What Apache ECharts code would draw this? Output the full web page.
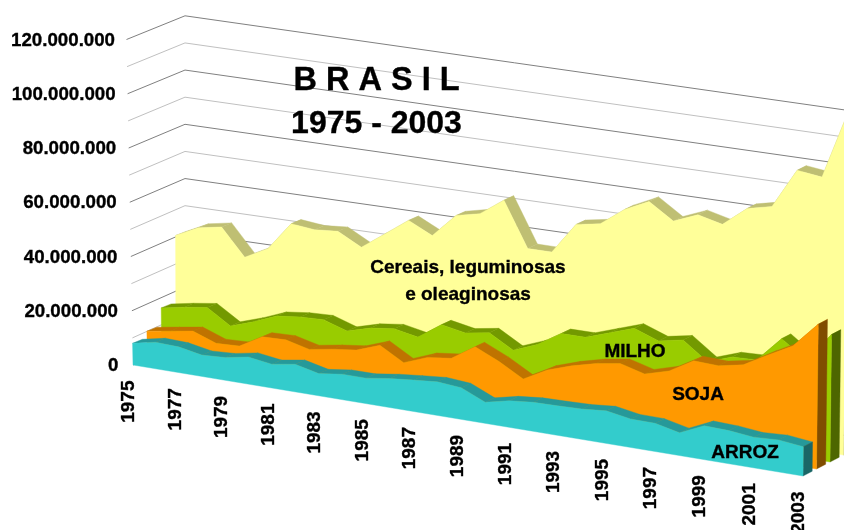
<!DOCTYPE html>
<html>
<head>
<meta charset="utf-8">
<style>
  html, body { margin: 0; padding: 0; background: #fff; }
  #main { width: 844px; height: 530px; }
</style>
<script src="https://cdn.jsdelivr.net/npm/echarts@6/dist/echarts.min.js"></script>
</head>
<body>
<div id="main"></div>
<script>
var years = [1975,1976,1977,1978,1979,1980,1981,1982,1983,1984,1985,1986,1987,1988,1989,1990,1991,1992,1993,1994,1995,1996,1997,1998,1999,2000,2001,2002,2003];
var yearLabels = [1975,1977,1979,1981,1983,1985,1987,1989,1991,1993,1995,1997,1999,2001,2003];
var gridValues = [0,10,20,30,40,50,60,70,80,90,100,110,120];
var valueTicks = [0,20,40,60,80,100,120];
var valueLabels = ["0","20.000.000","40.000.000","60.000.000","80.000.000","100.000.000","120.000.000"];

// milhoes de toneladas
var arroz = [8.0,9.8,9.5,7.9,8.4,10.0,8.8,10.2,8.2,9.4,9.4,10.7,11.6,12.4,11.7,7.8,9.8,10.7,10.9,11.2,12.0,10.5,10.4,8.4,12.5,12.2,11.3,11.8,10.8];
var soja = [10.3,11.7,13.1,10.0,10.4,15.2,15.5,13.4,14.9,16.0,19.2,14.2,17.6,18.7,24.4,20.4,15.4,20.2,23.2,25.5,27.0,24.6,27.2,32.4,32.1,33.9,39.0,43.9,53.4];
var milho = [16.7,18.3,19.6,14.2,17.1,20.6,21.7,22.1,19.3,21.8,23.0,21.3,27.3,25.7,27.2,22.2,25.7,31.2,31.3,34.4,37.5,34.3,36.1,29.6,32.8,33.2,42.5,36.0,47.0];
var cereais = [41.2,45.4,47.1,37.3,41.8,52.4,51.6,52.4,47.9,54.2,60.6,56.4,65.2,67.3,73.7,57.3,57.4,69.0,70.7,77.4,81.8,76.0,79.8,77.7,85.0,87.2,102.0,101.0,126.0];

// ordem: do fundo para a frente
var crops = [
  { name: "Cereais", values: cereais, depth: 3, front: "#FFFF99", top: "#BFBF73", side: "#808050" },
  { name: "Milho", values: milho, depth: 2, front: "#99CC00", top: "#739900", side: "#4D6600" },
  { name: "Soja", values: soja, depth: 1, front: "#FF9900", top: "#BF7300", side: "#804D00" },
  { name: "Arroz", values: arroz, depth: 0, front: "#33CCCC", top: "#269999", side: "#1A6666" }
];

var FONT = '"Liberation Sans", Arial, sans-serif';
var GRID_LEFT = 133;
var THICK = 0.68;

// projecao obliqua sobre os eixos normais do echarts
function project(api, year, v, d) {
  var p = api.coord([year, v]);
  var i = year - 1975;
  var x = p[0] + 0.034 * i * (i - 28);
  var y = p[1] + (x - GRID_LEFT) * 0.1657 - d * (5.9 + 1.1 * i / 28);
  var lean = (v / 120) * (-6.5 * (1 - i / 28) * (1 - d / 3.57) + 4 * i / 28);
  return [x + (14.3 - 0.8 * i / 28) * d + lean, y];
}

function polygon(points, color) {
  return {
    type: "polygon",
    shape: { points: points },
    style: { fill: color, stroke: color, lineWidth: 0.4 }
  };
}

function renderCrop(crop) {
  return function(params, api) {
    if (params.dataIndex !== years.length - 1) return null;
    var children = [];
    var d = crop.depth;
    var last = years.length - 1;
    for (var k = 0; k < last; k++) {
      children.push(polygon([
        project(api, years[k], crop.values[k], d),
        project(api, years[k + 1], crop.values[k + 1], d),
        project(api, years[k + 1], crop.values[k + 1], d + THICK),
        project(api, years[k], crop.values[k], d + THICK)
      ], crop.top));
    }
    children.push(polygon([
      project(api, years[last], 0, d),
      project(api, years[last], crop.values[last], d),
      project(api, years[last], crop.values[last], d + THICK),
      project(api, years[last], 0, d + THICK)
    ], crop.side));
    var pts = [project(api, years[0], 0, d)];
    for (var j = 0; j <= last; j++) {
      pts.push(project(api, years[j], crop.values[j], d));
    }
    pts.push(project(api, years[last], 0, d));
    children.push(polygon(pts, crop.front));
    return { type: "group", children: children };
  };
}

function renderWall(params, api) {
  var v = gridValues[params.dataIndex];
  var p = api.coord([1975, v]);
  var backY = p[1] - 23.7;
  var major = v % 20 === 0;
  return {
    type: "polyline",
    shape: { points: [[p[0] - v / 120 * 6.5, p[1]], [185, backY], [844, backY + 659 * 0.1427]] },
    style: { fill: null, stroke: major ? "#808080" : "#c0c0c0", lineWidth: 1 }
  };
}

function textStyle(text, size, align) {
  return { text: text, fontFamily: FONT, fontWeight: "bold", fontSize: size, fill: "#000", stroke: "#000", lineWidth: 0.35, align: align, verticalAlign: "middle" };
}

function renderYear(params, api) {
  var year = yearLabels[params.dataIndex];
  var p = project(api, year, 0, 0);
  return {
    type: "text",
    x: p[0] - 3.8,
    y: p[1] + 15.5,
    rotation: Math.PI / 2,
    style: textStyle(String(year), 19, "right")
  };
}

// rotulos do eixo de valores, inclinados como a parede
function renderValue(params, api) {
  var v = valueTicks[params.dataIndex];
  var p = api.coord([1975, v]);
  return {
    type: "text",
    x: p[0] - 14.5 - v / 120 * 3.5,
    y: p[1] + 1,
    style: textStyle(valueLabels[params.dataIndex], 18.7, "right")
  };
}

function label(text, x, y, size, lineHeight) {
  var style = textStyle(text, size, "center");
  style.lineHeight = lineHeight;
  return { type: "text", z: 100, x: x, y: y, style: style };
}

function customSeries(z, data, renderItem, name) {
  return {
    name: name,
    type: "custom",
    coordinateSystem: "cartesian2d",
    clip: false,
    silent: true,
    z: z,
    data: data,
    renderItem: renderItem
  };
}

var series = [customSeries(1, gridValues.map(function(v) { return [1975, v]; }), renderWall)];
crops.forEach(function(crop, n) {
  series.push(customSeries(2 + n, years.map(function(y, k) { return [y, crop.values[k]]; }), renderCrop(crop), crop.name));
});
series.push(customSeries(10, yearLabels.map(function(y) { return [y, 0]; }), renderYear));
series.push(customSeries(10, valueTicks.map(function(v) { return [1975, v]; }), renderValue));

var myChart = echarts.init(document.getElementById("main"));
myChart.setOption({
  animation: false,
  backgroundColor: "#fff",
  grid: { left: GRID_LEFT, right: 41, top: 39.5, bottom: 165 },
  xAxis: { type: "value", min: 1975, max: 2003, show: false },
  yAxis: { type: "value", min: 0, max: 120, interval: 20, show: false },
  graphic: {
    elements: [
      label("B R A S I L", 376.5, 81, 32.5),
      label("1975 - 2003", 376.5, 124, 32),
      label("Cereais, leguminosas\ne oleaginosas", 468, 281, 19, 27),
      label("MILHO", 635, 352, 19),
      label("SOJA", 698, 395, 19),
      label("ARROZ", 745, 453, 19)
    ]
  },
  series: series
});
</script>
</body>
</html>
